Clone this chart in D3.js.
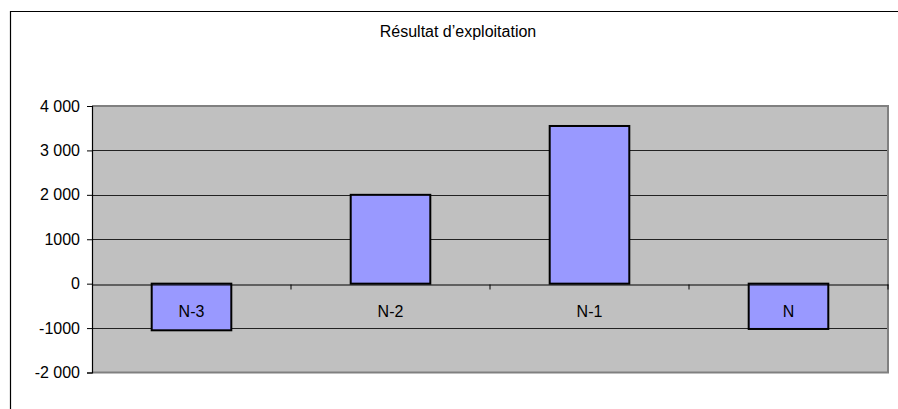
<!DOCTYPE html>
<html>
<head>
<meta charset="utf-8">
<script src="https://cdn.jsdelivr.net/npm/d3@7"></script>
<style>
  html, body { margin: 0; padding: 0; background: #fff; }
  svg { display: block; }
  text { font-family: "Liberation Sans", Arial, sans-serif; fill: #000; }
</style>
</head>
<body>
<svg id="chart" width="898" height="409"></svg>
<script>
const title = "Résultat d’exploitation";
const categories = ["N-3", "N-2", "N-1", "N"];
const values = [-1050, 2000, 3550, -1020];
const tickValues = [-2000, -1000, 0, 1000, 2000, 3000, 4000];
const tickLabels = ["-2 000", "-1000", "0", "1000", "2 000", "3 000", "4 000"];

const svg = d3.select("#chart");
const W = 898, H = 409;
const plot = { left: 92, right: 888, top: 106, bottom: 372.5 };

// outer chart border (left and top visible)
svg.append("path")
  .attr("d", `M10.5,${H + 2} V11.5 H${W + 2}`)
  .attr("fill", "none").attr("stroke", "#000").attr("stroke-width", 1.2);

svg.append("text")
  .attr("x", 458).attr("y", 37)
  .attr("text-anchor", "middle")
  .attr("font-size", 16)
  .text(title);

const x = d3.scaleBand().domain(categories)
  .range([plot.left, plot.right]).paddingInner(0.6).paddingOuter(0.3);
const xb = d3.scaleBand().domain(categories).range([plot.left, plot.right]);
const y = d3.scaleLinear().domain([-2000, 4000]).range([plot.bottom, plot.top]);

// plot background
svg.append("rect")
  .attr("x", plot.left).attr("y", plot.top)
  .attr("width", plot.right - plot.left).attr("height", plot.bottom - plot.top)
  .attr("fill", "#C0C0C0");

// gridlines
svg.append("g").selectAll("line")
  .data(tickValues.filter(v => v !== -2000 && v !== 4000 && v !== 0))
  .join("line")
  .attr("x1", plot.left).attr("x2", plot.right)
  .attr("y1", d => Math.round(y(d)) + 0.5).attr("y2", d => Math.round(y(d)) + 0.5)
  .attr("stroke", "#222").attr("stroke-width", 1);

// plot border (gray) top, right, bottom
svg.append("path")
  .attr("d", `M${plot.left},${plot.top} H${plot.right} V${plot.bottom} H${plot.left}`)
  .attr("fill", "none").attr("stroke", "#808080").attr("stroke-width", 2);

// bars
svg.append("g").selectAll("rect")
  .data(categories.map((c, i) => ({ c, v: values[i] })))
  .join("rect")
  .attr("x", d => x(d.c))
  .attr("width", x.bandwidth())
  .attr("y", d => y(Math.max(0, d.v)))
  .attr("height", d => Math.abs(y(d.v) - y(0)))
  .attr("fill", "#9999FF")
  .attr("stroke", "#000").attr("stroke-width", 2);

// y axis
const yAxis = d3.axisLeft(y).tickValues(tickValues)
  .tickFormat((d, i) => tickLabels[i]).tickSize(5).tickPadding(7);
const gy = svg.append("g").attr("transform", `translate(${plot.left},0)`).call(yAxis);
gy.select(".domain").attr("stroke", "#000").attr("stroke-width", 1.2);
gy.selectAll(".tick line").attr("stroke", "#000");
gy.selectAll(".tick text").attr("font-size", 16).attr("font-family", "Liberation Sans, Arial, sans-serif").attr("fill", "#000");

// x axis at zero
const xAxis = d3.axisBottom(xb).tickSize(0).tickPadding(0).tickFormat("");
const gx = svg.append("g").attr("transform", `translate(0,${Math.round(y(0)) + 0.5})`).call(xAxis);
gx.select(".domain").attr("stroke", "#000").attr("stroke-width", 1.2);
gx.selectAll(".tick").remove();
// category boundary ticks
gx.selectAll("line.bound")
  .data(categories.slice(1).map(c => xb(c)).concat([plot.right]))
  .join("line").attr("class", "bound")
  .attr("x1", d => d).attr("x2", d => d)
  .attr("y1", 0).attr("y2", 5)
  .attr("stroke", "#000");
// category labels
gx.selectAll("text.cat")
  .data(categories)
  .join("text").attr("class", "cat")
  .attr("x", d => xb(d) + xb.bandwidth() / 2)
  .attr("y", 32)
  .attr("text-anchor", "middle")
  .attr("font-size", 16)
  .text(d => d);
</script>
</body>
</html>
